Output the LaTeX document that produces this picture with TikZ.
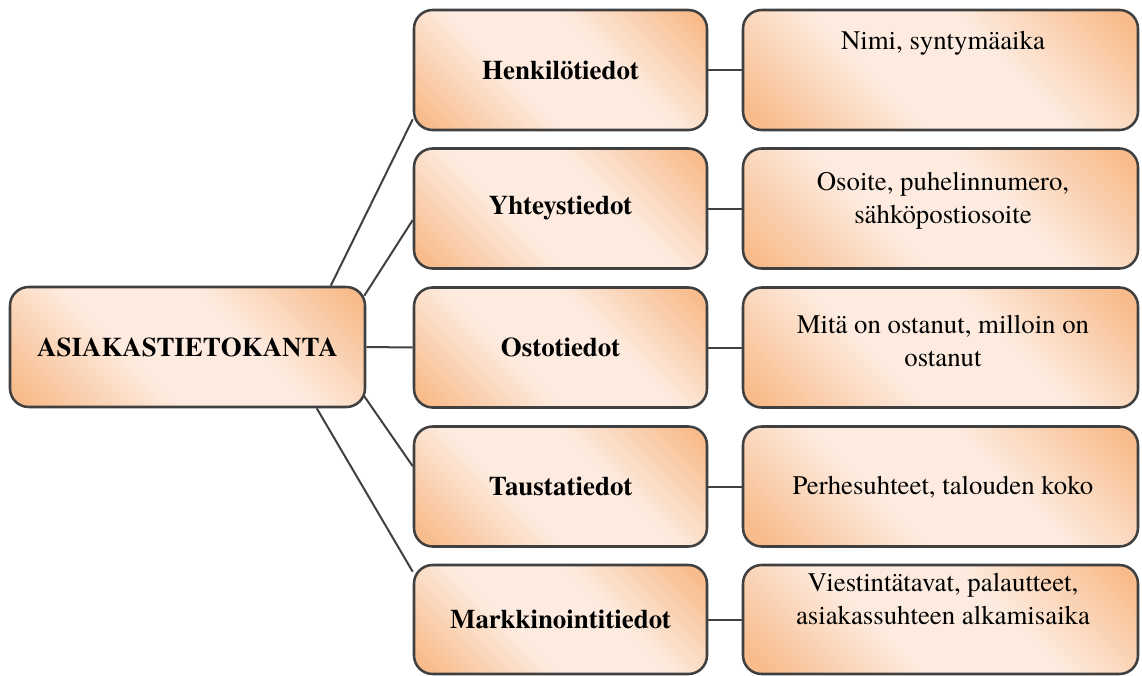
\documentclass[tikz,border=0pt]{standalone}
\usepackage{fontspec}
\newfontfamily\tnr{texgyretermes}[Extension=.otf, UprightFont=*-regular, BoldFont=*-bold, ItalicFont=*-italic, BoldItalicFont=*-bolditalic]
\usetikzlibrary{calc}
\definecolor{peachD}{RGB}{248,188,140}
\definecolor{peachL}{RGB}{253,235,223}
\definecolor{edgegray}{RGB}{64,64,64}
\pgfdeclarehorizontalshading{peach}{100bp}{color(0bp)=(peachD); color(18bp)=(peachD); color(40bp)=(peachL); color(60bp)=(peachL); color(82bp)=(peachD); color(100bp)=(peachD)}
\tikzset{
  box/.style={draw=edgegray, line width=1.9pt, rounded corners=14pt, shade, shading=peach, shading angle=45, inner sep=0pt, minimum height=90pt, font=\tnr\fontsize{20.2}{24}\selectfont\bfseries},
  leftbox/.style={box, minimum width=266.25pt},
  midbox/.style={box, minimum width=219.75pt},
  rightbox/.style={box, minimum width=296.25pt},
  txt/.style={align=center, inner sep=0pt, font=\tnr\fontsize{20.1}{24.5}\selectfont},
  conn/.style={draw=edgegray, line width=1.5pt}
}
\begin{document}
\begin{tikzpicture}[x=0.75pt,y=-0.75pt]
\useasboundingbox (0,0) rectangle (1142,675);
% root
\node[leftbox] (root) at (187.5,347) {ASIAKASTIETOKANTA};
% middle column
\node[midbox] (m1) at (560.5,70) {Henkilötiedot};
\node[midbox] (m2) at (560.5,208.5) {Yhteystiedot};
\node[midbox] (m3) at (560.5,347.5) {Ostotiedot};
\node[midbox] (m4) at (560.5,486.5) {Taustatiedot};
\node[midbox, minimum height=81.75pt] (m5) at (560.5,619.5) {Markkinointitiedot};
% right column
\node[rightbox] (r1) at (940.5,70) {};
\node[rightbox] (r2) at (940.5,208.5) {};
\node[rightbox] (r3) at (940.5,347.5) {};
\node[rightbox] (r4) at (940.5,486.5) {};
\node[rightbox, minimum height=81.75pt] (r5) at (940.5,619.5) {};
% texts of right column
\node[txt] (t1) at (943,43) {Nimi, syntymäaika};
\node[txt] (t2) at (943,201) {Osoite, puhelinnumero,\\sähköpostiosoite};
\node[txt] (t3) at (943,341) {Mitä on ostanut, milloin on\\ostanut};
\node[txt] (t4) at (943,487) {Perhesuhteet, talouden koko};
\node[txt] (t5) at (943,599) {Viestintätavat, palautteet,\\asiakassuhteen alkamisaika};
% connectors root -> middle
\draw[conn] ($(root.north west)+(322,0)$) -- ($(m1.south west)+(0,-12)$);
\draw[conn] ($(root.north east)+(-2,10)$) -- ($(m2.west)+(0,11.5)$);
\draw[conn] (root.east) -- (m3.west);
\draw[conn] ($(root.south east)+(-2,-12)$) -- ($(m4.north west)+(0,41)$);
\draw[conn] ($(root.south west)+(308,0)$) -- ($(m5.north west)+(0,8)$);
% connectors middle -> right
\draw[conn] (m1.east) -- (r1.west);
\draw[conn] (m2.east) -- (r2.west);
\draw[conn] (m3.east) -- (r3.west);
\draw[conn] (m4.east) -- (r4.west);
\draw[conn] (m5.east) -- (r5.west);
\end{tikzpicture}
\end{document}
